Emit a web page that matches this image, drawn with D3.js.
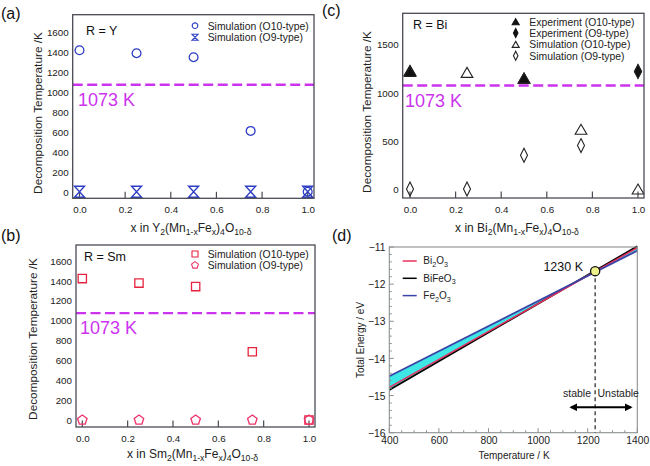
<!DOCTYPE html>
<html><head><meta charset="utf-8">
<script src="https://cdn.jsdelivr.net/npm/d3@7"></script>
<style>body{margin:0;background:#fff}svg{display:block;font-family:"Liberation Sans",Arial,sans-serif}</style>
</head><body><svg id="chart" width="650" height="466"></svg>
<script>
// ---------- data ----------
const xFractions = [0, 0.25, 0.5, 0.75, 1.0];
const xTicks = [0, 0.2, 0.4, 0.6, 0.8, 1.0];
const yTicksYSm = [0, 200, 400, 600, 800, 1000, 1200, 1400, 1600];
const yTicksBi = [0, 500, 1000, 1500];
const threshold = 1073;

const ySimO10 = [1420, 1390, 1350, 610, 0];
const ySimO9 = [0, 0, 0, 0, 0];
const smSimO10 = [1420, 1375, 1340, 685, 0];
const smSimO9 = [0, 0, 0, 0, 0];
const biExpO10X = [0, 0.5];
const biExpO10 = [1230, 1150];
const biExpO9X = [1.0];
const biExpO9 = [1220];
const biSimO10 = [1220, 1210, 1150, 620, 0];
const biSimO9 = [0, 0, 350, 450, 1220];

const tempTicks = [400, 600, 800, 1000, 1200, 1400];
const energyTicks = [-16, -15, -14, -13, -12, -11];
const temps = [400, 1400];
const eBi2O3 = [-14.78, -11.02];
const eBiFeO3 = [-14.85, -10.98];
const eFe2O3 = [-14.48, -11.10];
const crossT = 1230, crossE = -11.65;

// ---------- helpers ----------
const svg = d3.select("#chart");
const frameCol = "#4a4a55";
const magenta = "#cc33ee";

function rich(sel, parts, size) {
  parts.forEach(p => {
    const t = sel.append("tspan").text(p[0]);
    if (p[1] === "sub") t.attr("font-size", size * 0.72).attr("dy", size * 0.28);
    else if (p.prev) t.attr("dy", 0);
  });
  // fix dy resets
  let shifted = false;
  sel.selectAll("tspan").each(function (d, i) {
    const isSub = parts[i][1] === "sub";
    const el = d3.select(this);
    if (isSub && !shifted) { el.attr("dy", size * 0.28); shifted = true; }
    else if (isSub && shifted) { el.attr("dy", 0); }
    else if (!isSub && shifted) { el.attr("dy", -size * 0.28); shifted = false; }
    else el.attr("dy", 0);
  });
}

const shapes = {
  hourglass: (w, h) => `M${-w/2},${-h/2}H${w/2}L${-w/2},${h/2}H${w/2}Z`,
  square: (w) => `M${-w/2},${-w/2}H${w/2}V${w/2}H${-w/2}Z`,
  pentagon: (r) => {
    const pts = d3.range(5).map(k => { const a = -Math.PI/2 + k*2*Math.PI/5; return [r*Math.cos(a), r*Math.sin(a)]; });
    return "M" + pts.map(p => p.join(",")).join("L") + "Z";
  },
  triangle: (w, h) => `M0,${-h/2}L${w/2},${h/2}L${-w/2},${h/2}Z`,
  diamond: (w, h) => `M0,${-h/2}L${w/2},0L0,${h/2}L${-w/2},0Z`
};

function panel(cfg) {
  const g = svg.append("g");
  const x = d3.scaleLinear().domain([0, 1]).range([cfg.x0, cfg.x1]);
  const y = d3.scaleLinear().domain([0, cfg.yTop]).range([cfg.y0, cfg.y1]);
  const f = cfg.frame;
  // dashed threshold
  g.append("line").attr("x1", f.l).attr("x2", f.r).attr("y1", y(threshold)).attr("y2", y(threshold))
    .attr("stroke", magenta).attr("stroke-width", 2.4).attr("stroke-dasharray", "10,4.5");
  g.append("text").attr("x", cfg.kx).attr("y", y(threshold) + 21).attr("fill", magenta)
    .attr("font-size", 18).text("1073 K");
  // axes tick labels
  const xa = d3.axisBottom(x).tickValues(xTicks).tickFormat(d3.format(".1f")).tickSize(0).tickPadding(0);
  const xg = g.append("g").attr("transform", `translate(0,${f.b + 14.5})`).call(xa);
  xg.select(".domain").remove();
  xg.selectAll("text").attr("font-size", 9.8).attr("fill", "#222").attr("dy", 0).attr("y", 0);
  const ya = d3.axisLeft(y).tickValues(cfg.yTicks).tickFormat(d3.format("d")).tickSize(0).tickPadding(0);
  const yg = g.append("g").attr("transform", `translate(${f.l - 4},0)`).call(ya);
  yg.select(".domain").remove();
  yg.selectAll("text").attr("font-size", 9.8).attr("fill", "#222").attr("dy", "0.35em").attr("x", 0);
  // inner x ticks
  g.selectAll(".xt").data(xTicks).enter().append("line")
    .attr("x1", d => x(d)).attr("x2", d => x(d)).attr("y1", f.b).attr("y2", f.b - 6.5)
    .attr("stroke", frameCol).attr("stroke-width", 1.2);
  // markers
  cfg.series.forEach(s => {
    s.vals.forEach((v, i) => {
      g.append("path").attr("d", s.path)
        .attr("transform", `translate(${x(s.xs[i]) + (s.dx || 0)},${y(v)})`)
        .attr("fill", s.fill || "none").attr("stroke", s.color).attr("stroke-width", s.sw || 1.2);
    });
  });
  // frame
  g.append("rect").attr("x", f.l).attr("y", f.t).attr("width", f.r - f.l).attr("height", f.b - f.t)
    .attr("fill", "none").attr("stroke", frameCol).attr("stroke-width", 1.3);
  // label R=
  g.append("text").attr("x", cfg.rx).attr("y", cfg.ry).attr("font-size", 12.5).attr("fill", "#111").text(cfg.rLabel);
  // legend
  cfg.legend.forEach((L, i) => {
    const yy = cfg.leg.y + i * cfg.leg.dy;
    g.append("path").attr("d", L.path).attr("transform", `translate(${cfg.leg.sx},${yy})`)
      .attr("fill", L.fill || "none").attr("stroke", L.color).attr("stroke-width", 1.1);
    g.append("text").attr("x", cfg.leg.tx).attr("y", yy + 3.8).attr("font-size", 10.4).attr("fill", "#222").text(L.label);
  });
  // panel letter
  g.append("text").attr("x", cfg.lx).attr("y", cfg.ly).attr("font-size", 16).attr("fill", "#111").text(cfg.letter);
  // y title
  g.append("text").attr("transform", `translate(${cfg.ytx},${cfg.yty}) rotate(-90)`).attr("text-anchor", "middle")
    .attr("dy", "0.35em").attr("font-size", 11.8).attr("fill", "#222").text("Decomposition Temperature /K");
  // x title
  const xt = g.append("text").attr("x", cfg.xtx).attr("y", cfg.xty).attr("text-anchor", "middle")
    .attr("font-size", 12).attr("fill", "#222");
  rich(xt, cfg.xTitle, 12);
}

const blue = "#2e3ec4", red = "#e6243f", pink = "#f0336b";

panel({
  letter: "(a)", lx: 1, ly: 19,
  frame: { l: 72.7, t: 14.7, r: 314, b: 198.3 },
  x0: 79.5, x1: 307.7, y0: 191.7, y1: 32.3, yTop: 1600, yTicks: yTicksYSm,
  kx: 78, rx: 86, ry: 34.5, rLabel: "R = Y",
  ytx: 37.7, yty: 113,
  xtx: 191, xty: 231.5,
  xTitle: [["x in Y"], ["2", "sub"], ["(Mn"], ["1-x", "sub"], ["Fe"], ["x", "sub"], [")"], ["4", "sub"], ["O"], ["10-δ", "sub"]],
  series: [
    { xs: xFractions, vals: ySimO10, path: d3.symbol(d3.symbolCircle, Math.PI * 4.4 * 4.4)(), color: blue, sw: 1.3 },
    { xs: xFractions, vals: ySimO9, path: shapes.hourglass(10, 11), color: blue, sw: 1.4 }
  ],
  leg: { sx: 195, y: 25.7, dy: 11.6, tx: 207.7 },
  legend: [
    { label: "Simulation (O10-type)", path: d3.symbol(d3.symbolCircle, Math.PI * 2.8 * 2.8)(), color: blue },
    { label: "Simulation (O9-type)", path: shapes.hourglass(6, 6), color: blue }
  ]
});

panel({
  letter: "(b)", lx: 1, ly: 241,
  frame: { l: 76, t: 245, r: 315, b: 427 },
  x0: 82.3, x1: 309, y0: 420, y1: 260.7, yTop: 1600, yTicks: yTicksYSm,
  kx: 80, rx: 84, ry: 260.5, rLabel: "R = Sm",
  ytx: 33, yty: 339,
  xtx: 192.5, xty: 457.5,
  xTitle: [["x in Sm"], ["2", "sub"], ["(Mn"], ["1-x", "sub"], ["Fe"], ["x", "sub"], [")"], ["4", "sub"], ["O"], ["10-δ", "sub"]],
  series: [
    { xs: xFractions, vals: smSimO10, path: shapes.square(8.3), color: red, sw: 1.3 },
    { xs: xFractions, vals: smSimO9, path: shapes.pentagon(5), color: pink, sw: 1.3 }
  ],
  leg: { sx: 195, y: 254, dy: 11.2, tx: 207.7 },
  legend: [
    { label: "Simulation (O10-type)", path: shapes.square(6), color: red },
    { label: "Simulation (O9-type)", path: shapes.pentagon(3.6), color: pink }
  ]
});

panel({
  letter: "(c)", lx: 322, ly: 16,
  frame: { l: 402.7, t: 13.3, r: 644, b: 198 },
  x0: 410, x1: 638, y0: 189, y1: 44.4, yTop: 1500, yTicks: yTicksBi,
  kx: 405, rx: 413, ry: 28.8, rLabel: "R = Bi",
  ytx: 366.7, yty: 112,
  xtx: 517, xty: 231.5,
  xTitle: [["x in Bi"], ["2", "sub"], ["(Mn"], ["1-x", "sub"], ["Fe"], ["x", "sub"], [")"], ["4", "sub"], ["O"], ["10-δ", "sub"]],
  series: [
    { xs: biExpO10X, vals: biExpO10, path: shapes.triangle(11.5, 10), color: "#111", fill: "#111" },
    { xs: biExpO9X, vals: biExpO9, path: shapes.diamond(7, 13), color: "#111", fill: "#111" },
    { xs: xFractions, vals: biSimO10, path: shapes.triangle(11.7, 10), color: "#222", sw: 1.1 },
    { xs: xFractions, vals: biSimO9, path: shapes.diamond(7, 14), color: "#222", sw: 1.1 }
  ],
  leg: { sx: 515.7, y: 21.7, dy: 11.35, tx: 529.3 },
  legend: [
    { label: "Experiment (O10-type)", path: shapes.triangle(7, 6), color: "#111", fill: "#111" },
    { label: "Experiment (O9-type)", path: shapes.diamond(4.5, 9), color: "#111", fill: "#111" },
    { label: "Simulation (O10-type)", path: shapes.triangle(7, 6), color: "#222" },
    { label: "Simulation (O9-type)", path: shapes.diamond(4.5, 9), color: "#222" }
  ]
});

// ---------- panel (d) ----------
(function () {
  const g = svg.append("g");
  const x = d3.scaleLinear().domain([400, 1400]).range([389.3, 637.3]);
  const y = d3.scaleLinear().domain([-16, -11]).range([432.7, 247]);
  const axCol = "#8c9090";
  // fill between Fe2O3 and BiFeO3
  const rows = temps.map((t, i) => ({ t, fe: eFe2O3[i], bf: eBiFeO3[i], bi: eBi2O3[i] }));
  g.append("path").datum(rows)
    .attr("d", d3.area().x(d => x(d.t)).y0(d => y(d.bf)).y1(d => y(d.fe)))
    .attr("fill", "#3fe6e6");
  const line = key => d3.line().x(d => x(d.t)).y(d => y(d[key]));
  g.append("path").datum(rows).attr("d", line("bf")).attr("stroke", "#000").attr("stroke-width", 1.8).attr("fill", "none");
  g.append("path").datum(rows).attr("d", line("bi")).attr("stroke", "#e8305e").attr("stroke-width", 1.6).attr("fill", "none");
  g.append("path").datum(rows).attr("d", line("fe")).attr("stroke", "#3a44a8").attr("stroke-width", 1.8).attr("fill", "none");
  // frame
  g.append("rect").attr("x", 389.3).attr("y", 247).attr("width", 248).attr("height", 185.7)
    .attr("fill", "none").attr("stroke", axCol).attr("stroke-width", 1.1);
  // ticks
  const xminor = d3.range(400, 1401, 50), yminor = d3.range(-16, -10.99, 0.2);
  g.selectAll(".xm").data(xminor).enter().append("line")
    .attr("x1", d => x(d)).attr("x2", d => x(d)).attr("y1", 432.7)
    .attr("y2", d => 432.7 - (d % 200 === 0 ? 4.5 : 2.5)).attr("stroke", axCol);
  g.selectAll(".ym").data(yminor).enter().append("line")
    .attr("y1", d => y(d)).attr("y2", d => y(d)).attr("x1", 389.3)
    .attr("x2", d => 389.3 + (Math.abs(d - Math.round(d)) < 1e-6 ? 4.5 : 2.5)).attr("stroke", axCol);
  const xa = d3.axisBottom(x).tickValues(tempTicks).tickSize(0).tickPadding(0).tickFormat(d3.format("d"));
  const xg = g.append("g").attr("transform", "translate(0,444)").call(xa);
  xg.select(".domain").remove();
  xg.selectAll("text").attr("font-size", 10.3).attr("fill", "#222").attr("y", 0).attr("dy", 0);
  const ya = d3.axisLeft(y).tickValues(energyTicks).tickSize(0).tickPadding(0).tickFormat(d => "\u221216".replace("16", Math.abs(d)));
  const yg = g.append("g").attr("transform", "translate(385.5,0)").call(ya);
  yg.select(".domain").remove();
  yg.selectAll("text").attr("font-size", 10.3).attr("fill", "#222").attr("x", 0).attr("dy", "0.35em");
  // titles
  g.append("text").attr("x", 514).attr("y", 459).attr("text-anchor", "middle").attr("font-size", 10)
    .attr("fill", "#222").text("Temperature / K");
  g.append("text").attr("transform", "translate(360,340) rotate(-90)").attr("text-anchor", "middle")
    .attr("dy", "0.35em").attr("font-size", 10).attr("fill", "#222").text("Total Energy / eV");
  // crossing point and dashed vertical
  g.append("line").attr("x1", x(crossT)).attr("x2", x(crossT)).attr("y1", y(crossE)).attr("y2", 432.7)
    .attr("stroke", "#333").attr("stroke-width", 1.3).attr("stroke-dasharray", "4,3");
  g.append("circle").attr("cx", x(crossT)).attr("cy", y(crossE)).attr("r", 4.6)
    .attr("fill", "#eef08a").attr("stroke", "#111").attr("stroke-width", 1.3);
  g.append("text").attr("x", 583).attr("y", 271).attr("text-anchor", "end").attr("font-size", 12.5)
    .attr("fill", "#111").text(crossT + " K");
  // stable / unstable
  g.append("text").attr("x", 591).attr("y", 397).attr("text-anchor", "end").attr("font-size", 10.5).attr("fill", "#222").text("stable");
  g.append("text").attr("x", 597.5).attr("y", 397).attr("font-size", 10.5).attr("fill", "#222").text("Unstable");
  const defs = svg.append("defs");
  defs.append("marker").attr("id", "ah").attr("viewBox", "0 0 10 10").attr("refX", 8).attr("refY", 5)
    .attr("markerWidth", 4).attr("markerHeight", 4).attr("orient", "auto-start-reverse")
    .append("path").attr("d", "M0,0L10,5L0,10Z").attr("fill", "#000");
  g.append("line").attr("x1", 571).attr("x2", 631).attr("y1", 407.3).attr("y2", 407.3)
    .attr("stroke", "#000").attr("stroke-width", 2).attr("marker-start", "url(#ah)").attr("marker-end", "url(#ah)");
  // legend
  const leg = [
    { c: "#e8305e", parts: [["Bi"], ["2", "sub"], ["O"], ["3", "sub"]] },
    { c: "#000", parts: [["BiFeO"], ["3", "sub"]] },
    { c: "#3a44a8", parts: [["Fe"], ["2", "sub"], ["O"], ["3", "sub"]] }
  ];
  leg.forEach((L, i) => {
    const yy = 261 + i * 17.3;
    g.append("line").attr("x1", 402.7).attr("x2", 416.7).attr("y1", yy).attr("y2", yy).attr("stroke", L.c).attr("stroke-width", 1.5);
    const t = g.append("text").attr("x", 423.3).attr("y", yy + 3.3).attr("font-size", 10).attr("fill", "#222");
    rich(t, L.parts, 10);
  });
  g.append("text").attr("x", 332).attr("y", 241).attr("font-size", 16).attr("fill", "#111").text("(d)");
})();
</script></body></html>
